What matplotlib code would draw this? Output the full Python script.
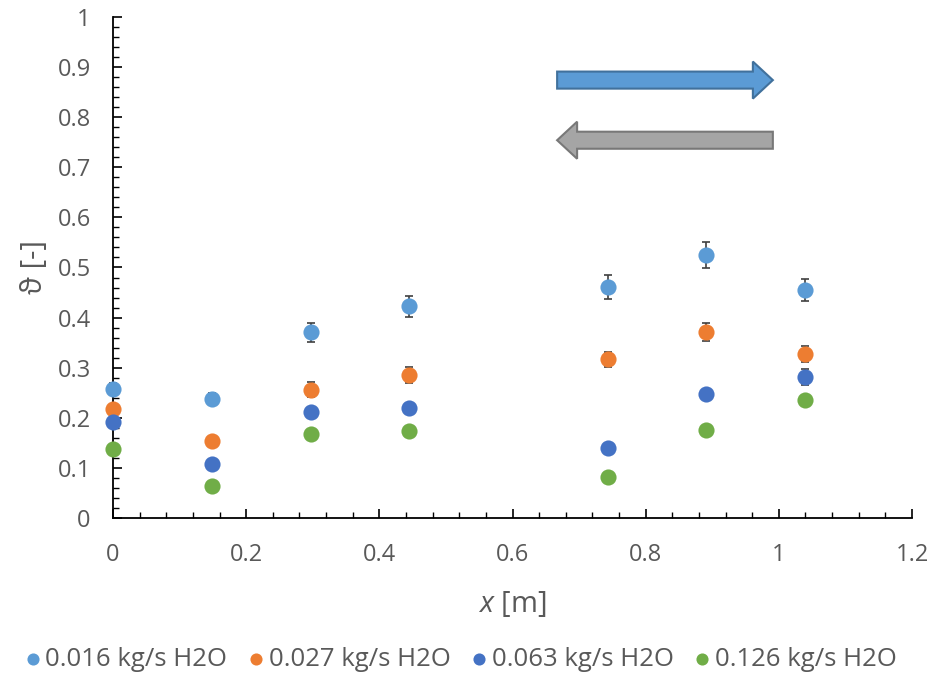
import numpy as np
import matplotlib.pyplot as plt
from matplotlib.patches import FancyArrow
from matplotlib.ticker import MultipleLocator

plt.rcParams['font.family'] = ['Open Sans', 'DejaVu Sans']
plt.rcParams['mathtext.fontset'] = 'custom'
plt.rcParams['mathtext.rm'] = 'Open Sans'
plt.rcParams['mathtext.it'] = 'Open Sans:italic'

# Daten
x = [0, 0.148, 0.297, 0.445, 0.743, 0.891, 1.04]
labels = ['0.016 kg/s H2O', '0.027 kg/s H2O', '0.063 kg/s H2O', '0.126 kg/s H2O']
y_016 = [0.257, 0.238, 0.371, 0.423, 0.461, 0.525, 0.455]
y_027 = [0.218, 0.154, 0.256, 0.285, 0.317, 0.371, 0.327]
y_063 = [0.192, 0.108, 0.212, 0.220, 0.140, 0.248, 0.281]
y_126 = [0.138, 0.064, 0.168, 0.174, 0.082, 0.176, 0.236]
err_016 = [0.012, 0.012, 0.019, 0.021, 0.024, 0.026, 0.022]
err_027 = [0.010, 0.010, 0.015, 0.016, 0.015, 0.018, 0.016]
err_063 = [0.008, 0.008, 0.008, 0.008, 0.008, 0.010, 0.016]
err_126 = [0.006, 0.006, 0.006, 0.006, 0.006, 0.006, 0.008]

serien = [y_016, y_027, y_063, y_126]
fehler = [err_016, err_027, err_063, err_126]
farben = ['#5B9BD5', '#ED7D31', '#4472C4', '#70AD47']

grau = '#595959'

fig = plt.figure(figsize=(9.35, 6.76), dpi=100)
ax = fig.add_axes([0.1209, 0.2337, 0.8545, 0.7412])

for y, e, c, lab in zip(serien, fehler, farben, labels):
    ax.errorbar(x, y, yerr=e, fmt='none', ecolor='#404040', elinewidth=1.2,
                capsize=3, capthick=1.2, zorder=2, clip_on=False)
    ax.scatter(x, y, s=135, color=c, label=lab, zorder=3, linewidths=0, clip_on=False)

# Pfeile
ax.add_patch(FancyArrow(0.667, 0.874, 0.294, 0, width=0.034, head_width=0.074,
                        head_length=0.03, length_includes_head=False,
                        facecolor='#5B9BD5', edgecolor='#41719C', lw=1.5, zorder=4))
ax.add_patch(FancyArrow(0.991, 0.754, -0.294, 0, width=0.034, head_width=0.074,
                        head_length=0.03, length_includes_head=False,
                        facecolor='#A5A5A5', edgecolor='#787878', lw=1.5, zorder=4))

ax.set_xlim(0, 1.2)
ax.set_ylim(0, 1)
ax.xaxis.set_major_locator(MultipleLocator(0.2))
ax.xaxis.set_minor_locator(MultipleLocator(0.04))
ax.yaxis.set_major_locator(MultipleLocator(0.1))
ax.yaxis.set_minor_locator(MultipleLocator(0.02))
ax.set_xticks(np.arange(0, 1.21, 0.2), ['0', '0.2', '0.4', '0.6', '0.8', '1', '1.2'])
ax.set_yticks(np.arange(0, 1.01, 0.1),
              ['0', '0.1', '0.2', '0.3', '0.4', '0.5', '0.6', '0.7', '0.8', '0.9', '1'])

ax.spines['top'].set_visible(False)
ax.spines['right'].set_visible(False)
for s in ['left', 'bottom']:
    ax.spines[s].set_linewidth(1.3)
    ax.spines[s].set_color('black')

ax.tick_params(which='major', direction='in', length=6.5, width=1.2, colors='black',
               labelcolor=grau, labelsize=17)
ax.tick_params(which='minor', direction='in', length=4.5, width=1.0, colors='black')
ax.tick_params(axis='x', pad=18)
ax.tick_params(axis='y', pad=16)

ax.set_xlabel(r'$x$ [m]', fontsize=21, color=grau, labelpad=16)
ax.set_ylabel('ϑ [-]', fontsize=21, color=grau, labelpad=6)

handles, labs = ax.get_legend_handles_labels()
fig.legend(handles, labs, loc='center', bbox_to_anchor=(0.49, 0.025), ncol=4,
           frameon=False, fontsize=18.5, labelcolor=grau, markerscale=0.75,
           handletextpad=0.0, columnspacing=0.6, handlelength=1.0,
           borderaxespad=0, borderpad=0)

fig.savefig('out.png', dpi=100)
